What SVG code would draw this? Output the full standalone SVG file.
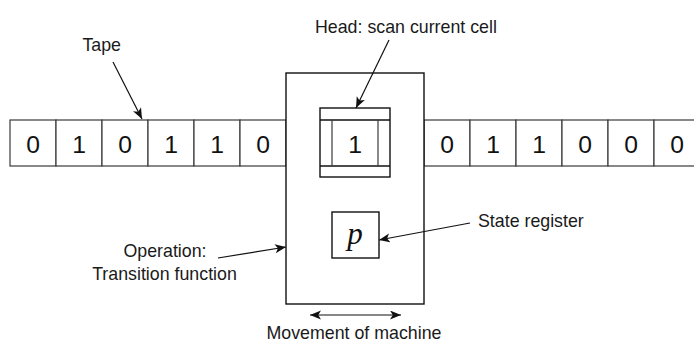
<svg xmlns="http://www.w3.org/2000/svg" width="694" height="342" viewBox="0 0 694 342">
  <style>
    .cell { fill: #ffffff; stroke: #3a3a3a; stroke-width: 1.2; }
    .box { fill: #ffffff; stroke: #111111; stroke-width: 1.4; }
    .digit { font-family: "Liberation Sans", Arial, sans-serif; font-size: 24.7px; fill: #111111; text-anchor: middle; }
    .label { font-family: "Liberation Sans", Arial, sans-serif; font-size: 17.8px; fill: #1a1a1a; }
    .mid { text-anchor: middle; }
    .math { font-family: "Liberation Serif", "Times New Roman", serif; font-style: italic; font-size: 31px; fill: #111111; text-anchor: middle; }
    .conn { fill: none; stroke: #111111; stroke-width: 1.2; }
  </style>
  <defs>
    <marker id="arrow" markerUnits="userSpaceOnUse" markerWidth="13" markerHeight="10" refX="11" refY="4.5" orient="auto-start-reverse">
      <path d="M0,0 L11,4.5 L0,9 L2.8,4.5 Z" fill="#111111"/>
    </marker>
  </defs>

  <!-- tape, left part -->
  <g id="tape-left">
    <rect class="cell" x="10" y="120" width="46" height="46"/>
    <rect class="cell" x="56" y="120" width="46" height="46"/>
    <rect class="cell" x="102" y="120" width="46" height="46"/>
    <rect class="cell" x="148" y="120" width="46" height="46"/>
    <rect class="cell" x="194" y="120" width="46" height="46"/>
    <rect class="cell" x="240" y="120" width="46" height="46"/>
    <text class="digit" x="33" y="152.5">0</text>
    <text class="digit" x="79" y="152.5">1</text>
    <text class="digit" x="125" y="152.5">0</text>
    <text class="digit" x="171" y="152.5">1</text>
    <text class="digit" x="217" y="152.5">1</text>
    <text class="digit" x="263" y="152.5">0</text>
  </g>

  <!-- tape, right part -->
  <g id="tape-right">
    <rect class="cell" x="424" y="120" width="46" height="46"/>
    <rect class="cell" x="470" y="120" width="46" height="46"/>
    <rect class="cell" x="516" y="120" width="46" height="46"/>
    <rect class="cell" x="562" y="120" width="46" height="46"/>
    <rect class="cell" x="608" y="120" width="46" height="46"/>
    <rect class="cell" x="654" y="120" width="46" height="46"/>
    <text class="digit" x="447" y="152.5">0</text>
    <text class="digit" x="493" y="152.5">1</text>
    <text class="digit" x="539" y="152.5">1</text>
    <text class="digit" x="585" y="152.5">0</text>
    <text class="digit" x="631" y="152.5">0</text>
    <text class="digit" x="677" y="152.5">0</text>
  </g>

  <!-- machine body -->
  <g id="machine">
    <rect class="box" x="286" y="73" width="138" height="231"/>
  </g>

  <!-- read/write head over the current cell -->
  <g id="head">
    <rect class="box" x="320" y="108" width="70" height="69"/>
    <line class="box" x1="320" y1="120" x2="390" y2="120"/>
    <line class="box" x1="320" y1="166" x2="390" y2="166"/>
    <line class="cell" x1="332" y1="120" x2="332" y2="166"/>
    <line class="cell" x1="378" y1="120" x2="378" y2="166"/>
    <text class="digit" x="355" y="152.5">1</text>
  </g>

  <!-- state register -->
  <g id="state-register">
    <rect class="box" x="332" y="212" width="47" height="46"/>
    <text class="math" x="355" y="243.5">p</text>
  </g>

  <!-- annotations -->
  <g id="labels">
    <text class="label mid" x="101.7" y="51">Tape</text>
    <text class="label" x="315" y="33">Head: scan current cell</text>
    <text class="label" x="478" y="227">State register</text>
    <text class="label mid" x="165" y="257">Operation:</text>
    <text class="label mid" x="164.5" y="280">Transition function</text>
    <text class="label mid" x="354" y="338.5">Movement of machine</text>
  </g>

  <!-- connectors -->
  <g id="connectors">
    <line class="conn" x1="113" y1="62" x2="142" y2="119" marker-end="url(#arrow)"/>
    <line class="conn" x1="389" y1="40" x2="356" y2="108" marker-end="url(#arrow)"/>
    <line class="conn" x1="470" y1="223" x2="379" y2="240" marker-end="url(#arrow)"/>
    <line class="conn" x1="218" y1="258" x2="286" y2="247" marker-end="url(#arrow)"/>
    <line class="conn" x1="310" y1="315" x2="401" y2="315" marker-start="url(#arrow)" marker-end="url(#arrow)"/>
  </g>
</svg>
